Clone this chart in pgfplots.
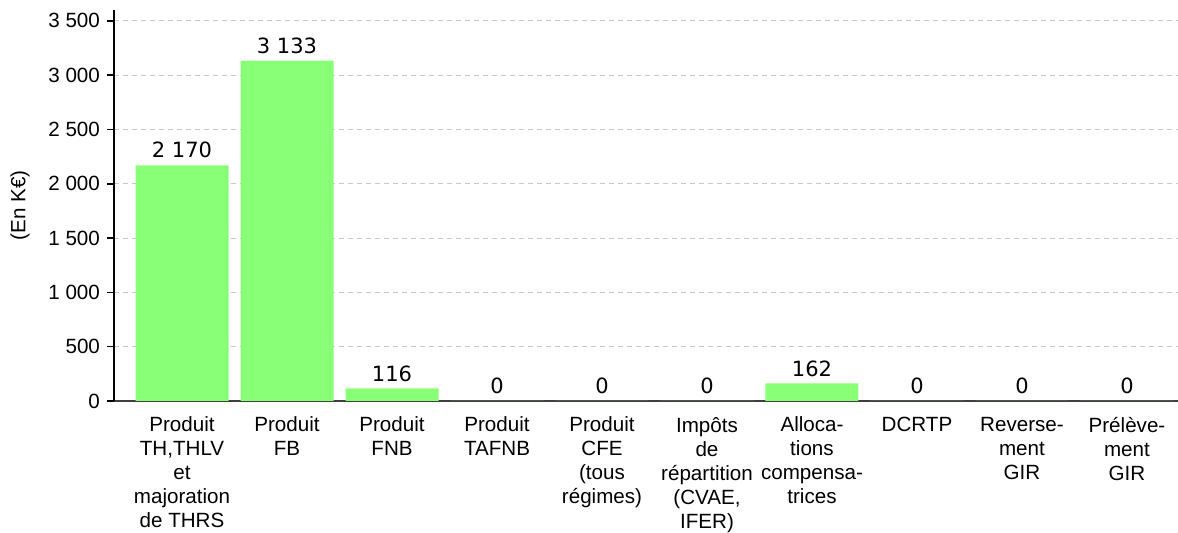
\documentclass[border=0pt]{standalone}
\usepackage{pgfplots}
\pgfplotsset{compat=1.18}
\usepackage{fontspec}
\setmainfont{Liberation Sans}
\newfontfamily\dejavu{DejaVu Sans}
\definecolor{barg}{RGB}{136,255,119}
\definecolor{gridg}{RGB}{200,200,200}
\begin{document}
\begin{tikzpicture}
\begin{axis}[
  scale only axis,
  width=532pt, height=195.5pt,
  xmin=-0.648, xmax=9.486,
  ymin=0, ymax=3600,
  axis lines=left,
  axis line style={-},
  x axis line style={draw=black!75, line width=0.7pt},
  y axis line style={draw=black, line width=1pt},
  ytick={0,500,1000,1500,2000,2500,3000,3500},
  xtick={0,...,9},
  xticklabels={{Produit\\TH,THLV\\et\\majoration\\de THRS},{Produit\\FB},{Produit\\FNB},{Produit\\TAFNB},{Produit\\CFE\\(tous\\régimes)},{Impôts\\de\\répartition\\(CVAE,\\IFER)},{Alloca-\\tions\\compensa-\\trices},{DCRTP},{Reverse-\\ment\\GIR},{Prélève-\\ment\\GIR}},
  x tick label style={align=center, font=\fontsize{10.3}{12}\selectfont, yshift=-1pt},
  xtick style={draw=none},
  tick align=outside,
  ytick style={draw=black, line width=0.8pt},
  major tick length=3.5pt,
  y tick label style={font=\fontsize{10.3}{12}\selectfont},
  /pgf/number format/assume math mode=true,
  /pgf/number format/1000 sep={\ },
  ymajorgrids,
  grid style={gridg, dash pattern=on 2.5pt off 2pt, line width=0.5pt},
  ylabel={(En K€)},
  ylabel style={at={(axis description cs:-0.0883,0.5)}, anchor=center, font=\fontsize{10.3}{12}\selectfont},
  clip=false,
]
\addplot[ybar, bar width=46.5pt, fill=barg, draw=none,
  nodes near coords,
  nodes near coords style={font=\dejavu\fontsize{10.5}{12}\selectfont, text=black, /pgf/number format/1000 sep={\ }, yshift=0pt},
] coordinates {
  (0,2170) (1,3133) (2,116) (3,0) (4,0) (5,0) (6,162) (7,0) (8,0) (9,0)
};
\end{axis}
\pgfresetboundingbox
\path (-57pt,-66pt) rectangle (532pt,200.5pt);
\end{tikzpicture}
\end{document}
